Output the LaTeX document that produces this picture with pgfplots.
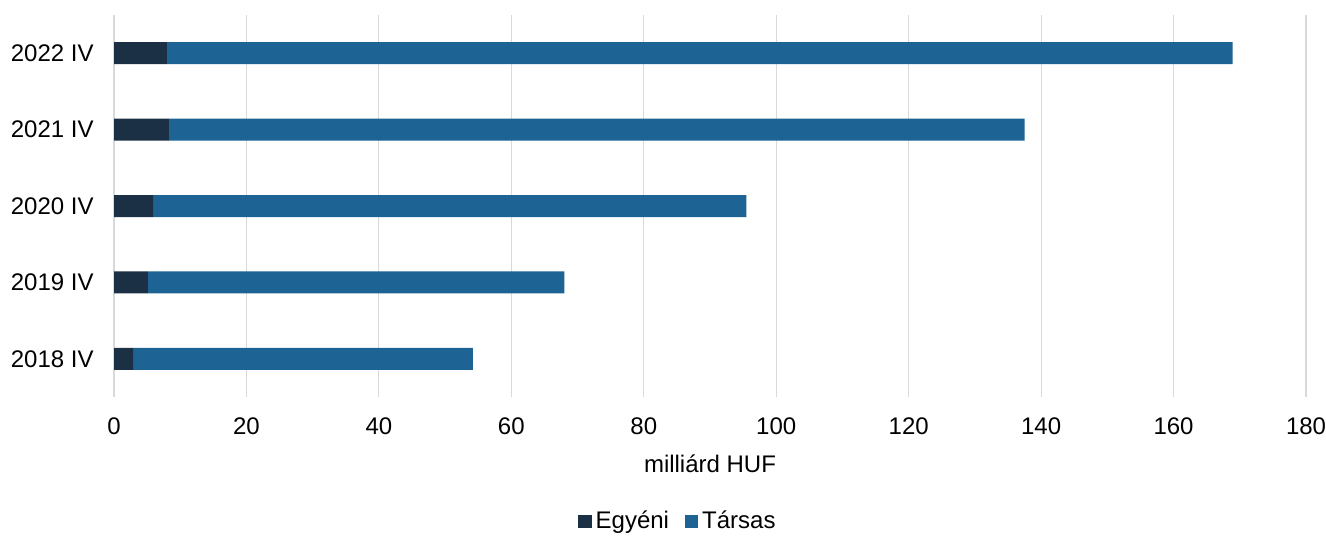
\documentclass[border=0pt]{standalone}
\usepackage{fontspec}
\setmainfont{Liberation Sans}
\usepackage{pgfplots}
\pgfplotsset{compat=1.18}
\definecolor{cDark}{HTML}{1B3045}
\definecolor{cBlue}{HTML}{1D6494}
\definecolor{cGrid}{HTML}{D9D9D9}
\begin{document}
\fontsize{12}{14}\selectfont
\begin{tikzpicture}
\useasboundingbox (-57pt,-71.5pt) rectangle (606pt,198.5pt);
\begin{axis}[
  at={(0pt,0pt)}, anchor=south west,
  scale only axis, width=596pt, height=191pt,
  xbar stacked, bar width=11pt,
  xmin=0, xmax=180, ymin=-0.5, ymax=4.5,
  xtick={0,20,...,180},
  ytick={0,1,2,3,4},
  yticklabels={2018 IV,2019 IV,2020 IV,2021 IV,2022 IV},
  major tick length=0pt,
  axis line style={draw=none},
  xmajorgrids, grid style={cGrid, line width=0.6pt},
  /pgf/number format/assume math mode=true,
  tick label style={font=\fontsize{12}{14}\selectfont},
  xticklabel style={yshift=-6pt},
  yticklabel style={xshift=-6pt},
  xlabel={milliárd HUF},
  xlabel style={font=\fontsize{12}{14}\selectfont, yshift=-2pt},
  legend style={at={(0.474,-0.325)}, anchor=center, draw=none, legend columns=2,
    font=\fontsize{12}{14}\selectfont, /tikz/every even column/.append style={column sep=6pt},
    inner sep=0pt},
  legend image code/.code={\fill[#1] (0pt,-3.3pt) rectangle (6.6pt,3.3pt);},
  legend cell align=left,
]
\addplot[fill=cDark, draw=none] coordinates {(2.9,0) (5.1,1) (5.9,2) (8.3,3) (8.0,4)};
\addplot[fill=cBlue, draw=none] coordinates {(51.3,0) (62.9,1) (89.6,2) (129.2,3) (160.9,4)};
\legend{Egyéni,Társas}
\end{axis}
\end{tikzpicture}
\end{document}
